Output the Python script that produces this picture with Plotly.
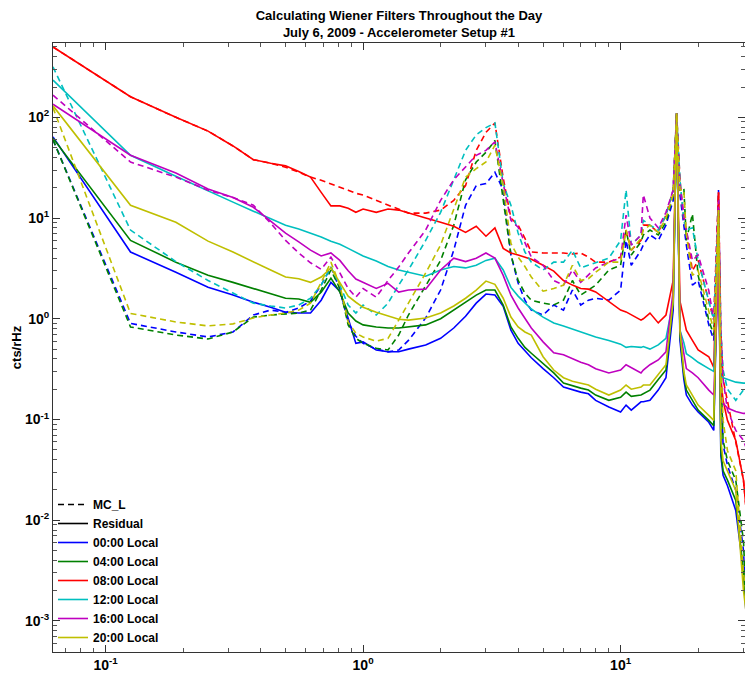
import plotly.graph_objects as go

# Frequency grid (Hz)
freq_hz = [0.0625, 0.125, 0.1875, 0.25, 0.3125, 0.375, 0.4375, 0.5, 0.5625, 0.625,
           0.6875, 0.75, 0.8125, 0.875, 0.9375, 1.0, 1.125, 1.25, 1.375, 1.5,
           1.75, 2.0, 2.25, 2.5, 2.75, 3.0, 3.25, 3.5, 3.75, 4.0,
           4.25, 4.5, 5.0, 5.5, 6.0, 6.5, 7.0, 7.5, 8.0, 9.0,
           10.0, 10.5, 11.0, 12.0, 12.25, 13.0, 14.0, 15.0, 16.0, 16.5, 17.0, 17.6,
           18.0, 19.0, 20.0, 22.0, 23.0, 24.0, 24.5, 25.0, 26.0, 28.0,
           30.0, 31.0]

# 00:00 Local
blu_mc = [60, 0.9, 0.74, 0.66, 0.74, 1.09, 1.22, 1.16, 1.28, 1.5,
          2.16, 3.26, 1.97, 0.93, 0.67, 0.57, 0.5, 0.47, 0.49, 0.61,
          1.02, 1.93, 4.8, 13.4, 21, 22, 28.5, 19, 4.3, 2.26,
          1.53, 1.22, 1.09, 1.37, 1.22, 1.93, 1.37, 1.53, 1.6, 1.53,
          1.93, 6.0, 3.4, 4.8, 5.4, 6.8, 6.0, 8.5, 15, 110, 17, 8.5,
          5.4, 2.16, 2.4, 0.87, 0.61, 19, 0.25, 0.056, 0.035, 0.0198,
          0.005, 0.00078]
blu_res = [64, 4.6, 2.9, 2.06, 1.72, 1.46, 1.3, 1.16, 1.14, 1.14,
           1.53, 2.3, 1.88, 1.02, 0.57, 0.59, 0.49, 0.47, 0.47, 0.5,
           0.55, 0.64, 0.81, 1.06, 1.43, 1.76, 1.72, 1.33, 0.77, 0.57,
           0.48, 0.41, 0.32, 0.26, 0.21, 0.196, 0.187, 0.18, 0.155, 0.133,
           0.119, 0.139, 0.124, 0.15, 0.15, 0.155, 0.196, 0.26, 1.22, 110, 0.61, 0.25,
           0.175, 0.139, 0.119, 0.094, 0.078, 7.6, 0.044, 0.028, 0.022, 0.0125,
           0.0031, 0.00078]

# 04:00 Local
grn_mc = [60, 0.83, 0.69, 0.63, 0.74, 1.04, 1.09, 1.11, 1.14, 1.22,
          1.93, 3.05, 2.0, 0.87, 0.64, 0.57, 0.51, 0.49, 0.69, 1.09,
          2.16, 3.8, 8.5, 24, 36, 45, 59, 15, 4.3, 2.4,
          1.8, 1.53, 1.43, 1.37, 1.53, 2.4, 1.72, 1.93, 2.16, 3.05,
          3.4, 7.6, 4.3, 5.8, 6.8, 7.6, 6.8, 9.1, 17, 110, 19, 20,
          6.0, 11, 2.7, 0.97, 0.69, 10.7, 0.31, 0.062, 0.039, 0.025,
          0.0062, 0.00098]
grn_res = [62, 6.0, 3.65, 2.7, 2.3, 2.0, 1.8, 1.6, 1.57, 1.46,
           1.84, 2.53, 1.84, 1.14, 0.95, 0.87, 0.83, 0.81, 0.81, 0.83,
           0.87, 1.0, 1.22, 1.46, 1.72, 1.93, 1.93, 1.37, 0.83, 0.64,
           0.52, 0.455, 0.355, 0.29, 0.23, 0.215, 0.205, 0.196, 0.175, 0.155,
           0.166, 0.187, 0.17, 0.175, 0.18, 0.196, 0.25, 0.31, 1.5, 110, 0.69, 0.28,
           0.196, 0.155, 0.124, 0.098, 0.087, 9.5, 0.049, 0.031, 0.025, 0.0157,
           0.003, 0.00098]

# 08:00 Local
red_mc = [500, 160, 100, 73, 52, 38, 35, 32, 28.5, 25.5,
          23.7, 21.6, 20.2, 18.9, 17.6, 16.9, 15, 13.4, 12.3, 11.2,
          11.2, 12, 15, 21, 47, 71, 88, 25, 10, 8.5,
          6.3, 4.6, 4.5, 4.5, 4.5, 4.4, 4.5, 4.1, 3.65, 3.65,
          4.1, 7.6, 4.8, 6.0, 8.5, 8.5, 7.2, 10.7, 19, 110, 24, 9.5,
          7.6, 3.0, 3.8, 1.5, 0.97, 18, 0.77, 0.25, 0.155, 0.062,
          0.025, 0.0099]
red_res = [500, 160, 100, 73, 52, 38, 35, 33, 29, 25.5,
           18, 13.2, 13.2, 12.5, 11.4, 12.3, 11.4, 12.3, 12, 11.2,
           10, 9.1, 8.3, 7.2, 8.3, 6.6, 8.0, 5.0, 4.5, 4.3,
           4.1, 3.9, 3.4, 2.97, 2.4, 2.16, 2.0, 1.97, 1.85, 1.47,
           1.22, 1.17, 1.09, 0.97, 1.0, 1.14, 0.91, 1.09, 2.4, 110, 1.5, 1.0,
           0.77, 0.61, 0.49, 0.42, 0.33, 18, 0.25, 0.155, 0.098, 0.062,
           0.025, 0.01]

# 12:00 Local
cya_mc = [317, 7.6, 3.7, 2.4, 1.8, 1.43, 1.34, 1.28, 1.37, 1.6,
          2.16, 3.26, 2.16, 1.37, 1.14, 1.37, 1.09, 1.43, 2.16, 3.05,
          6.0, 11.4, 24, 47, 67, 79, 88, 22, 13.4, 7.1,
          4.6, 3.65, 3.05, 3.65, 3.65, 4.8, 3.2, 3.4, 3.65, 4.0,
          6.0, 19, 5.4, 6.8, 9.5, 8.5, 7.6, 10.7, 19, 110, 24, 9.5,
          7.6, 8, 3.8, 1.5, 0.97, 12, 0.77, 0.31, 0.2, 0.155,
          0.196, 0.22]
cya_res = [234, 42, 26, 18.5, 14.4, 11.7, 9.8, 8.5, 7.8, 7.1,
           6.5, 5.9, 5.5, 5.0, 4.6, 4.2, 3.74, 3.3, 3.05, 2.9,
           2.65, 3.05, 3.3, 3.2, 3.4, 3.8, 4.0, 3.05, 2.05, 1.68,
           1.43, 1.25, 1.04, 0.91, 0.85, 0.79, 0.74, 0.70, 0.66, 0.61,
           0.56, 0.52, 0.53, 0.52, 0.53, 0.50, 0.55, 0.64, 1.5, 110, 0.77, 0.58,
           0.45, 0.41, 0.37, 0.32, 0.30, 3.8, 0.27, 0.26, 0.25, 0.235,
           0.23, 0.23]

# 16:00 Local
mag_mc = [166, 36, 25.5, 18.9, 16, 13.4, 8.9, 6.0, 4.5, 3.6,
          3.1, 4.1, 2.85, 2.0, 1.64, 2.0, 1.64, 2.4, 3.26, 4.5,
          7.6, 15, 24, 32, 42, 47, 57, 22, 9.5, 8.1,
          5.6, 4.1, 3.4, 2.4, 2.16, 3.05, 2.3, 2.7, 3.2, 3.65,
          4.0, 10.7, 5.4, 6.8, 17, 10, 8.0, 11.4, 19, 105, 21, 10.7,
          7.6, 3.8, 4.3, 1.9, 0.97, 15, 0.77, 0.25, 0.124, 0.078,
          0.062, 0.049]
mag_res = [135, 42, 28, 19.4, 16, 12.8, 9.3, 7.1, 5.8, 4.8,
           4.2, 4.5, 3.8, 3.0, 2.48, 2.3, 2.0, 2.25, 1.84, 1.93,
           1.97, 3.05, 4.0, 3.7, 4.0, 4.5, 4.0, 2.7, 1.72, 1.28,
           1.0, 0.81, 0.59, 0.46, 0.44, 0.40, 0.37, 0.35, 0.32, 0.29,
           0.31, 0.35, 0.33, 0.29, 0.31, 0.35, 0.39, 0.47, 1.9, 110, 0.77, 0.45,
           0.32, 0.29, 0.26, 0.196, 0.175, 3.0, 0.155, 0.145, 0.13, 0.12,
           0.115, 0.115]

# 20:00 Local
yel_mc = [125, 1.13, 0.93, 0.85, 0.89, 1.02, 1.09, 1.14, 1.22, 1.43,
          2.3, 3.65, 2.16, 0.93, 0.72, 0.66, 0.6, 0.64, 0.97, 1.43,
          2.85, 5.4, 12, 25.5, 31, 36, 53, 21, 5.6, 4.1,
          3.3, 2.6, 1.88, 2.0, 2.16, 3.4, 2.4, 2.5, 2.9, 3.65,
          3.65, 7.6, 4.8, 6.3, 7.6, 8.5, 7.2, 10, 17, 110, 19, 19,
          6.8, 2.7, 3.0, 1.22, 0.77, 12, 0.39, 0.098, 0.049, 0.031,
          0.003, 0.0016]
yel_res = [130, 13.4, 9.1, 5.9, 4.6, 3.65, 3.05, 2.6, 2.5, 2.3,
           2.6, 3.2, 2.3, 1.68, 1.46, 1.3, 1.16, 1.06, 0.99, 0.97,
           1.02, 1.14, 1.34, 1.6, 1.93, 2.37, 2.2, 1.6, 1.04, 0.83,
           0.74, 0.69, 0.42, 0.31, 0.26, 0.24, 0.23, 0.22, 0.2, 0.175,
           0.196, 0.22, 0.2, 0.21, 0.22, 0.22, 0.28, 0.35, 1.5, 110, 0.77, 0.3,
           0.22, 0.175, 0.139, 0.11, 0.098, 12, 0.062, 0.039, 0.031, 0.0198,
           0.002, 0.001]

series = [
    ("00:00 Local", "#0000FF", blu_mc, blu_res),
    ("04:00 Local", "#008000", grn_mc, grn_res),
    ("08:00 Local", "#FF0000", red_mc, red_res),
    ("12:00 Local", "#00BFBF", cya_mc, cya_res),
    ("16:00 Local", "#BF00BF", mag_mc, mag_res),
    ("20:00 Local", "#BFBF00", yel_mc, yel_res),
]

FONT = "Liberation Sans, Arial, sans-serif"
NARROW = "Liberation Sans Narrow, Arial Narrow, Liberation Sans, sans-serif"
DASH = "6px,4px"

fig = go.Figure()

for name, color, mc, res in series:
    fig.add_trace(go.Scatter(x=freq_hz, y=mc, mode="lines", showlegend=False,
                             line=dict(color=color, width=1.6, dash=DASH)))
    fig.add_trace(go.Scatter(x=freq_hz, y=res, mode="lines", showlegend=False,
                             line=dict(color=color, width=1.6)))

# legend entries
fig.add_trace(go.Scatter(x=[None], y=[None], mode="lines", name="<b>MC_L</b>",
                         line=dict(color="black", width=1.6, dash=DASH)))
fig.add_trace(go.Scatter(x=[None], y=[None], mode="lines", name="<b>Residual</b>",
                         line=dict(color="black", width=1.6)))
for name, color, _, _ in series:
    fig.add_trace(go.Scatter(x=[None], y=[None], mode="lines", name=f"<b>{name}</b>",
                             line=dict(color=color, width=1.6)))


def minor_vals(lo, hi):
    vals = []
    for e in range(lo, hi + 1):
        for m in range(2, 10):
            vals.append(m * 10.0 ** e)
    return vals


x_major = [0.1, 1, 10]
x_text = ["<b>10<sup>-1</sup></b>", "<b>10<sup>0</sup></b>", "<b>10<sup>1</sup></b>"]
y_major = [1e-3, 1e-2, 1e-1, 1, 10, 100]
y_text = ["<b>10<sup>-3</sup></b>", "<b>10<sup>-2</sup></b>", "<b>10<sup>-1</sup></b>",
          "<b>10<sup>0</sup></b>", "<b>10<sup>1</sup></b>", "<b>10<sup>2</sup></b>"]

axis_common = dict(
    type="log", showgrid=False, zeroline=False, showline=True, linecolor="#333333",
    linewidth=1, mirror="ticks", ticks="inside", ticklen=7, tickwidth=1,
    tickcolor="#333333", tickfont=dict(family=FONT, size=14, color="black"),
)

fig.update_xaxes(**axis_common, range=[-1.2041, 1.483], tickvals=x_major, ticktext=x_text,
                 minor=dict(tickvals=minor_vals(-2, 1), ticks="inside", ticklen=4,
                            tickcolor="#555555", showgrid=False))
fig.update_yaxes(**axis_common, range=[-3.308, 2.738], tickvals=y_major, ticktext=y_text,
                 minor=dict(tickvals=minor_vals(-4, 2), ticks="inside", ticklen=4,
                            tickcolor="#555555", showgrid=False),
                 title=dict(text="<b>cts/rHz</b>", font=dict(family=FONT, size=13, color="black"),
                            standoff=0))

fig.update_layout(
    width=745, height=677,
    margin=dict(l=53, r=0, t=43, b=25),
    plot_bgcolor="white", paper_bgcolor="white",
    title=dict(text="<b>Calculating Wiener Filters Throughout the Day<br>July 6, 2009 - Accelerometer Setup #1</b>",
               x=0.5, xref="paper", xanchor="center", y=0.970, yref="container", yanchor="middle",
               font=dict(family=NARROW, size=13, color="black")),
    legend=dict(x=0.0, y=0.0, xanchor="left", yanchor="bottom", bgcolor="rgba(0,0,0,0)",
                font=dict(family=FONT, size=12, color="black"), tracegroupgap=0,
                itemwidth=30, traceorder="normal"),
)

fig.write_html("out.html")
